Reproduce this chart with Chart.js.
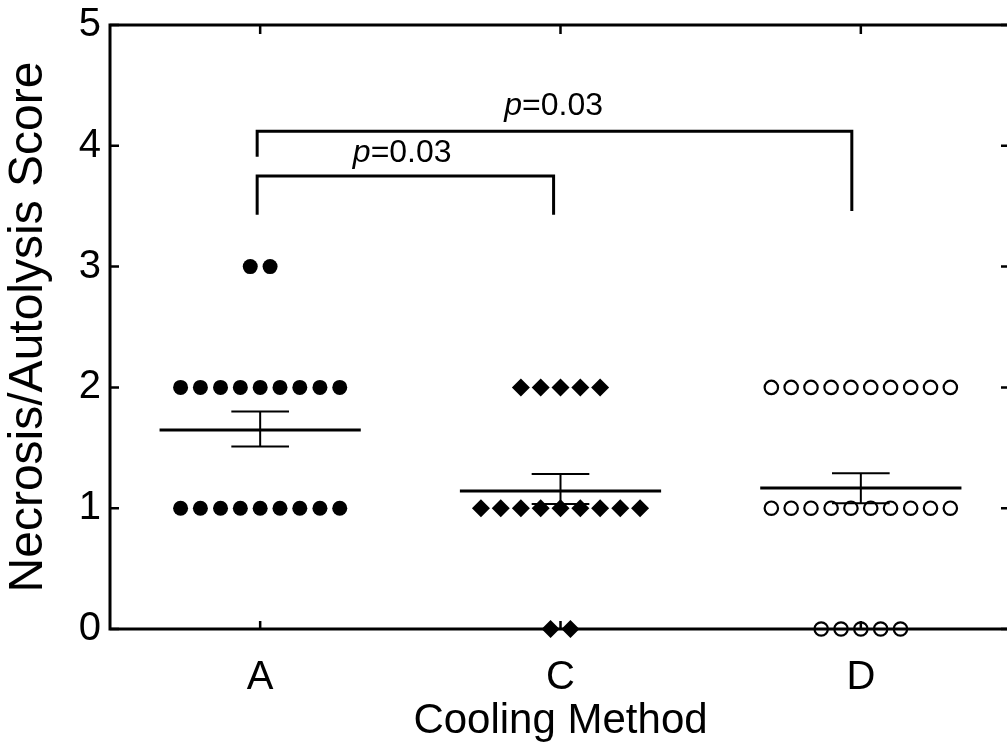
<!DOCTYPE html>
<html>
<head>
<meta charset="utf-8">
<title>Necrosis/Autolysis Score</title>
<script src="https://cdn.jsdelivr.net/npm/chart.js@4.4.1/dist/chart.umd.min.js"></script>
<style>
html, body { margin: 0; padding: 0; background: #fff; overflow: hidden; }
#wrap { width: 1007px; height: 755px; overflow: hidden; }
</style>
</head>
<body>
<div id="wrap"><canvas id="myChart" width="1020" height="755"></canvas></div>
<script>
const categories = ['A', 'C', 'D'];
const yTicks = [0, 1, 2, 3, 4, 5];

// group A - filled circles
const aX = [-0.033, 0.033,
    -0.265, -0.199, -0.132, -0.066, 0, 0.066, 0.132, 0.199, 0.265,
    -0.265, -0.199, -0.132, -0.066, 0, 0.066, 0.132, 0.199, 0.265];
const aY = [3, 3,
    2, 2, 2, 2, 2, 2, 2, 2, 2,
    1, 1, 1, 1, 1, 1, 1, 1, 1];

// group C - diamonds
const cX = [0.868, 0.934, 1, 1.066, 1.132,
    0.735, 0.801, 0.868, 0.934, 1, 1.066, 1.132, 1.199, 1.265,
    0.967, 1.033];
const cY = [2, 2, 2, 2, 2,
    1, 1, 1, 1, 1, 1, 1, 1, 1,
    0, 0];

// group D - open circles
const dX = [1.702, 1.768, 1.834, 1.901, 1.967, 2.033, 2.099, 2.166, 2.232, 2.298,
    1.702, 1.768, 1.834, 1.901, 1.967, 2.033, 2.099, 2.166, 2.232, 2.298,
    1.868, 1.934, 2, 2.066, 2.132];
const dY = [2, 2, 2, 2, 2, 2, 2, 2, 2, 2,
    1, 1, 1, 1, 1, 1, 1, 1, 1, 1,
    0, 0, 0, 0, 0];

// mean +/- SEM per group
const means = [1.647, 1.142, 1.167];
const semHigh = [1.80, 1.283, 1.29];
const semLow = [1.51, 1.035, 1.04];

// significance brackets
const bracketACx = [-0.01, -0.01, 0.977, 0.977];
const bracketACy = [3.43, 3.75, 3.75, 3.43];
const bracketADx = [-0.01, -0.01, 1.97, 1.97];
const bracketADy = [3.91, 4.12, 4.12, 3.46];
const pValues = ['0.03', '0.03'];

const FONT = "'Liberation Sans', Arial, Helvetica, sans-serif";

function toPoints(xs, ys) {
    return xs.map((x, i) => ({x: x, y: ys[i]}));
}

function lineSet(points, width) {
    return {
        type: 'scatter',
        data: points,
        showLine: true,
        borderColor: '#000',
        borderWidth: width,
        pointRadius: 0,
        borderJoinStyle: 'miter',
        tension: 0,
        clip: false
    };
}

const datasets = [];
means.forEach((m, i) => {
    datasets.push(lineSet([{x: i - 0.335, y: m}, {x: i + 0.335, y: m}], 3));
    datasets.push(lineSet([{x: i, y: semLow[i]}, {x: i, y: semHigh[i]}], 2));
    datasets.push(lineSet([{x: i - 0.096, y: semHigh[i]}, {x: i + 0.096, y: semHigh[i]}], 2));
    datasets.push(lineSet([{x: i - 0.096, y: semLow[i]}, {x: i + 0.096, y: semLow[i]}], 2));
});
datasets.push(lineSet(toPoints(bracketACx, bracketACy), 3));
datasets.push(lineSet(toPoints(bracketADx, bracketADy), 3));

datasets.push({
    label: 'A',
    data: toPoints(aX, aY),
    pointStyle: 'circle',
    pointRadius: 7.5,
    pointBackgroundColor: '#000',
    pointBorderWidth: 0,
    clip: false
});
datasets.push({
    label: 'C',
    data: toPoints(cX, cY),
    pointStyle: 'rectRot',
    pointRadius: 9,
    pointBackgroundColor: '#000',
    pointBorderWidth: 0,
    clip: false
});
datasets.push({
    label: 'D',
    data: toPoints(dX, dY),
    pointStyle: 'circle',
    pointRadius: 6.7,
    pointBackgroundColor: '#fff',
    pointBorderColor: '#000',
    pointBorderWidth: 2.2,
    clip: false
});

// where the p labels sit (data coords, text centre / baseline)
const pLabelAt = [[0.473, 3.866], [0.977, 4.255]];

const framePlugin = {
    id: 'frame',
    afterDatasetsDraw(chart) {
        const ctx = chart.ctx;
        const a = chart.chartArea;
        const xs = chart.scales.x, ys = chart.scales.y;
        ctx.save();
        ctx.strokeStyle = '#000';
        ctx.lineWidth = 3;
        ctx.strokeRect(a.left, a.top, a.right - a.left, a.bottom - a.top);
        ctx.lineWidth = 2.5;
        ctx.beginPath();
        yTicks.forEach(v => {
            const py = ys.getPixelForValue(v);
            ctx.moveTo(a.left, py); ctx.lineTo(a.left + 9, py);
            ctx.moveTo(a.right, py); ctx.lineTo(a.right - 10, py);
        });
        categories.forEach((c, i) => {
            const px = xs.getPixelForValue(i);
            ctx.moveTo(px, a.top); ctx.lineTo(px, a.top + 9);
            ctx.moveTo(px, a.bottom); ctx.lineTo(px, a.bottom - 8);
        });
        ctx.stroke();

        ctx.fillStyle = '#000';
        ctx.textBaseline = 'alphabetic';
        ctx.textAlign = 'left';
        pValues.forEach((p, i) => {
            const cx = xs.getPixelForValue(pLabelAt[i][0]);
            const cy = ys.getPixelForValue(pLabelAt[i][1]);
            ctx.font = 'italic 32px ' + FONT;
            const w1 = ctx.measureText('p').width;
            ctx.font = '32px ' + FONT;
            const rest = '=' + p;
            const w2 = ctx.measureText(rest).width;
            const x0 = cx - (w1 + w2) / 2;
            ctx.font = 'italic 32px ' + FONT;
            ctx.fillText('p', x0, cy);
            ctx.font = '32px ' + FONT;
            ctx.fillText(rest, x0 + w1, cy);
        });
        ctx.restore();
    }
};

const config = {
    type: 'scatter',
    data: {datasets: datasets},
    options: {
        responsive: false,
        animation: false,
        devicePixelRatio: 1,
        layout: {padding: {top: 25, right: 5, left: 0, bottom: 0}},
        plugins: {
            legend: {display: false},
            tooltip: {enabled: false}
        },
        scales: {
            x: {
                type: 'linear',
                min: -0.5,
                max: 2.5,
                grid: {display: false, drawTicks: false},
                border: {display: false},
                afterBuildTicks: s => { s.ticks = categories.map((c, i) => ({value: i})); },
                afterFit: s => { s.height = 126; s.paddingLeft = 0; s.paddingRight = 0; },
                ticks: {
                    padding: 25,
                    color: '#000',
                    font: {family: FONT, size: 40},
                    maxRotation: 0,
                    callback: v => categories[v]
                },
                title: {
                    display: true,
                    text: 'Cooling Method',
                    color: '#000',
                    font: {family: FONT, size: 42},
                    padding: {top: 0, bottom: 8}
                }
            },
            y: {
                type: 'linear',
                min: 0,
                max: 5,
                grid: {display: false, drawTicks: false},
                border: {display: false},
                afterBuildTicks: s => { s.ticks = yTicks.map(v => ({value: v})); },
                afterFit: s => { s.width = 110; s.paddingTop = 0; s.paddingBottom = 0; },
                ticks: {
                    padding: 9,
                    color: '#000',
                    font: {family: FONT, size: 40}
                },
                title: {
                    display: true,
                    text: 'Necrosis/Autolysis Score',
                    color: '#000',
                    font: {family: FONT, size: 48},
                    padding: {top: 0, bottom: 0}
                }
            }
        }
    },
    plugins: [framePlugin]
};

const myChart = new Chart(document.getElementById('myChart'), config);
</script>
</body>
</html>
